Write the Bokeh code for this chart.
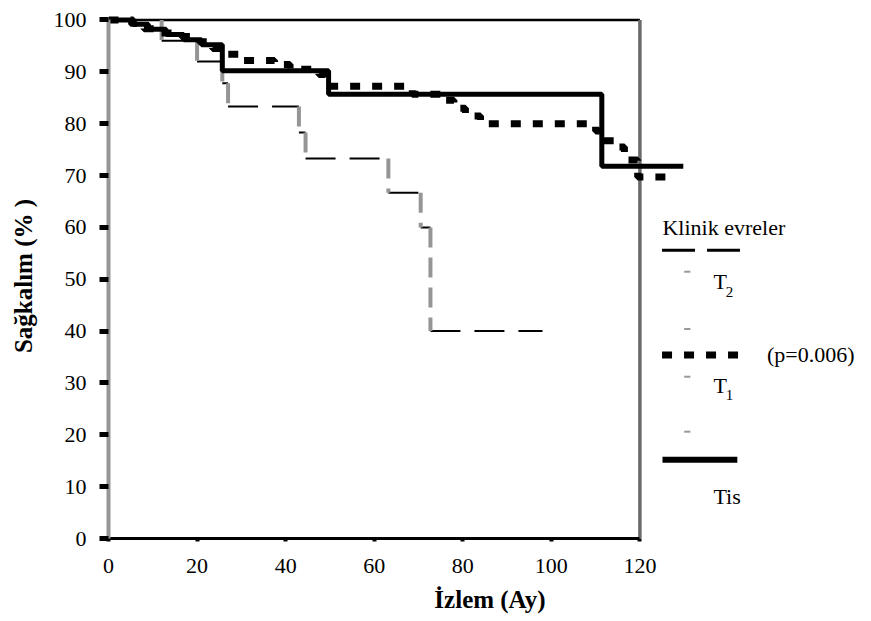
from bokeh.plotting import figure
from bokeh.models import Range1d, FixedTicker, Title
from bokeh.core.properties import value
from bokeh.embed import file_html
from bokeh.resources import INLINE

# ---- data ----
t2_time = [0, 12, 20, 25.7, 27, 43, 44.5, 63.2, 70.5, 72.7, 98]
t2_surv = [100, 96, 92, 87.8, 83.3, 78.3, 73.3, 66.7, 60, 40, 40]

t1_time = [0, 5.6, 8, 11, 16.5, 20.5, 23.5, 27, 30.5, 37.5, 41, 47.5, 49,
           68.6, 76, 78, 80.6, 84, 110, 111, 115, 116.5, 119.5, 127]
t1_surv = [100, 99.3, 98.3, 97.5, 96.8, 95.8, 94.5, 93.4, 92.2, 91.4, 90.5, 89.5, 87.2,
           85.7, 84.5, 83, 81.5, 80, 78.6, 76.7, 75.5, 73, 69.7, 69.7]

tis_time = [0, 5, 9, 13, 17, 21, 25.7, 49.7, 111.4, 129.8]
tis_surv = [100, 99.2, 98.2, 97.2, 96.2, 95.2, 90.2, 85.7, 71.8, 71.8]

x_ticks = [0, 20, 40, 60, 80, 100, 120]
y_ticks = [0, 10, 20, 30, 40, 50, 60, 70, 80, 90, 100]

legend_title = "Klinik evreler"
p_text = "(p=0.006)"
group_names = ["T", "T", "Tis"]
group_subs = ["2", "1"]

FONT = "Liberation Serif"

p = figure(width=871, height=621, output_backend="svg", toolbar_location=None,
           x_range=Range1d(0, 172.3), y_range=Range1d(0, 101.25),
           min_border_left=108, min_border_right=0, min_border_top=13, min_border_bottom=82)
p.outline_line_color = None
p.xgrid.visible = False
p.ygrid.visible = False
p.background_fill_color = "white"

# axes
xa = p.xaxis[0]
ya = p.yaxis[0]
xa.bounds = (0, 120)
ya.bounds = (0, 100)
xa.ticker = FixedTicker(ticks=x_ticks)
ya.ticker = FixedTicker(ticks=y_ticks)
for ax in (xa, ya):
    ax.minor_tick_line_color = None
    ax.major_label_text_font = FONT
    ax.major_label_text_font_size = "22px"
    ax.major_label_text_color = "black"
    ax.major_tick_in = 0
    ax.major_tick_line_color = "black"
xa.axis_line_color = "black"
xa.axis_line_width = 3
xa.major_tick_out = 3
xa.major_tick_line_width = 4
xa.major_label_standoff = 17
ya.axis_line_color = "#969696"
ya.axis_line_width = 4
ya.major_tick_out = 9
ya.major_tick_line_width = 5
ya.major_label_standoff = 13
ya.axis_label = "Sağkalım (% )"
ya.axis_label_text_font = FONT
ya.axis_label_text_font_style = "bold"
ya.axis_label_text_font_size = "25px"
ya.axis_label_standoff = 14
ya.axis_label_text_color = "black"

# x axis title, centred under the 0..120 axis
p.add_layout(Title(text="İzlem (Ay)", align="center", offset=-115, standoff=17,
                   text_font=FONT, text_font_size="25px", text_font_style="bold",
                   text_color="black"), "below")

# frame lines (top and right)
p.segment(x0=[0], y0=[100], x1=[120], y1=[100], line_color="black", line_width=2.5)
p.segment(x0=[120], y0=[0], x1=[120], y1=[100], line_color="#6a6a6a", line_width=3.5)

# T2 curve: horizontal black dashes, vertical grey dashes
hx0, hx1, hy, vx, vy0, vy1 = [], [], [], [], [], []
for i in range(len(t2_time) - 1):
    hx0.append(t2_time[i]); hx1.append(t2_time[i + 1]); hy.append(t2_surv[i])
    if t2_surv[i + 1] != t2_surv[i]:
        vx.append(t2_time[i + 1]); vy0.append(t2_surv[i]); vy1.append(t2_surv[i + 1])
p.segment(x0=hx0, y0=hy, x1=hx1, y1=hy, line_color="black", line_width=2, line_dash="30 14")
p.segment(x0=vx, y0=vy0, x1=vx, y1=vy1, line_color="#959595", line_width=4, line_dash="20 10")

# T1 curve: thick square dots
p.step(t1_time, t1_surv, mode="after", line_color="black", line_width=7, line_dash="10 12")

# Tis curve: thick solid
p.step(tis_time, tis_surv, mode="after", line_color="black", line_width=5)

# ---- legend drawn by hand ----
def txt(size="22px"):
    return dict(text_font=value(FONT), text_font_size=size, text_color="black",
                text_baseline="middle")

p.text(x=[125.1], y=[59.9], text=[legend_title], **txt())
p.segment(x0=[125.0], y0=[55.6], x1=[142.6], y1=[55.6], line_color="black",
          line_width=3, line_dash="33 12")
p.segment(x0=[130.0] * 4, y0=[51.45, 40.4, 31.2, 20.6], x1=[131.4] * 4,
          y1=[51.45, 40.4, 31.2, 20.6], line_color="#999999", line_width=2)
p.text(x=[136.6, 136.6, 136.6], y=[49.5, 29.45, 8.1], text=group_names, **txt())
p.text(x=[139.4, 139.4], y=[47.6, 27.6], text=group_subs, **txt("15px"))
p.segment(x0=[125.0], y0=[35.4], x1=[142.6], y1=[35.4], line_color="black",
          line_width=7, line_dash="10 12")
p.text(x=[148.7], y=[35.4], text=[p_text], **txt())
p.segment(x0=[125.1], y0=[15.2], x1=[142.0], y1=[15.2], line_color="black", line_width=6)

open("out.html", "w").write(file_html(p, INLINE))
